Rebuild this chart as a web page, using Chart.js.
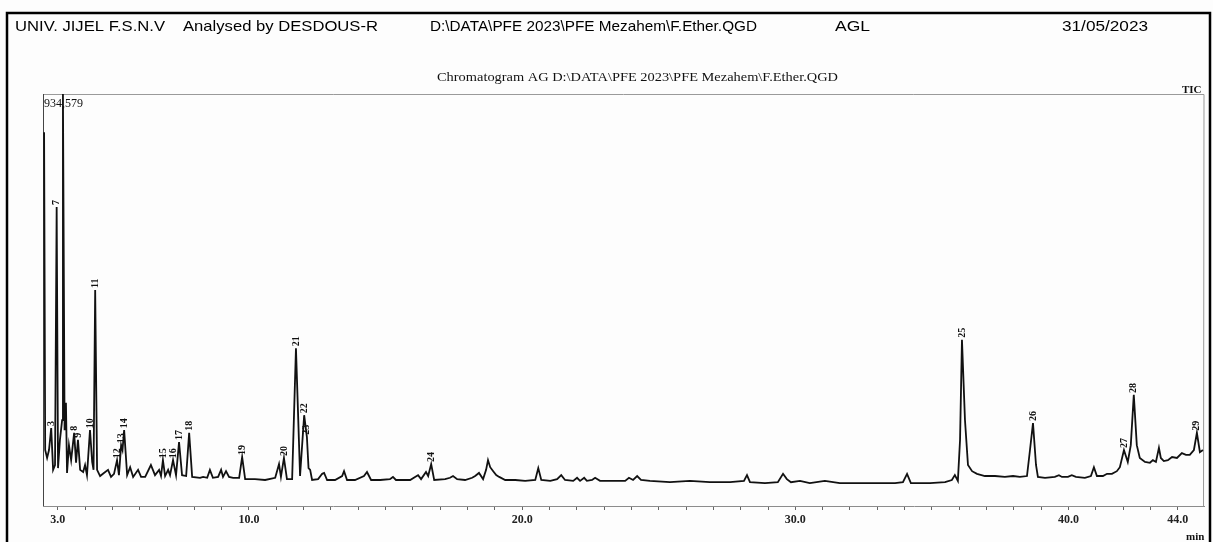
<!DOCTYPE html>
<html>
<head>
<meta charset="utf-8">
<script src="https://cdn.jsdelivr.net/npm/chart.js@4.4.0/dist/chart.umd.min.js"></script>
<style>
  html, body { margin: 0; padding: 0; background: #fff; }
  canvas { display: block; }
</style>
</head>
<body>
<canvas id="ticChart" width="1213" height="542"></canvas>
<script>
// TIC data: retention time (min) / intensity (counts)
const retentionTime = [
  2.50, 2.54, 2.61, 2.68, 2.76, 2.83, 2.90, 2.96, 3.01, 3.08, 3.16, 3.19, 3.25, 3.30, 3.34, 3.41,
  3.49, 3.60, 3.67, 3.74, 3.82, 3.93, 4.00, 4.07, 4.18, 4.26, 4.31, 4.37, 4.44, 4.55, 4.69, 4.84,
  4.95, 5.06, 5.17, 5.24, 5.32, 5.37, 5.43, 5.54, 5.65, 5.76, 5.94, 6.05, 6.20, 6.41, 6.56, 6.71,
  6.78, 6.85, 6.93, 7.04, 7.11, 7.22, 7.33, 7.44, 7.55, 7.70, 7.81, 7.92, 8.21, 8.32, 8.47, 8.57,
  8.68, 8.87, 8.98, 9.05, 9.16, 9.27, 9.42, 9.64, 9.75, 9.86, 10.22, 10.59, 10.96, 11.10, 11.17, 11.28,
  11.39, 11.58, 11.72, 11.87, 12.02, 12.12, 12.18, 12.24, 12.31, 12.53, 12.68, 12.75, 12.86, 13.15, 13.41, 13.48,
  13.59, 13.88, 14.21, 14.32, 14.47, 14.80, 15.16, 15.27, 15.38, 15.90, 16.08, 16.19, 16.30, 16.48, 16.56, 16.67,
  16.78, 17.18, 17.36, 17.47, 17.62, 17.91, 18.17, 18.28, 18.42, 18.57, 18.68, 18.75, 18.83, 18.94, 19.05, 19.16,
  19.38, 19.75, 20.11, 20.48, 20.59, 20.70, 21.03, 21.28, 21.43, 21.57, 21.87, 22.01, 22.12, 22.27, 22.37, 22.56,
  22.67, 22.85, 23.40, 23.77, 23.91, 24.06, 24.21, 24.35, 24.68, 25.41, 26.14, 26.87, 27.61, 28.12, 28.23, 28.34,
  28.89, 29.36, 29.55, 29.69, 29.84, 30.17, 30.53, 31.08, 31.63, 32.36, 33.10, 33.65, 33.94, 34.09, 34.23, 34.93,
  35.48, 35.73, 35.84, 35.95, 36.03, 36.10, 36.21, 36.32, 36.47, 36.65, 36.94, 37.31, 37.67, 37.97, 38.22, 38.48,
  38.59, 38.70, 38.81, 38.88, 39.14, 39.50, 39.65, 39.76, 39.98, 40.12, 40.27, 40.60, 40.82, 40.93, 41.04, 41.26,
  41.41, 41.59, 41.77, 41.88, 42.03, 42.17, 42.28, 42.39, 42.50, 42.61, 42.80, 42.98, 43.09, 43.20, 43.31, 43.38,
  43.49, 43.64, 43.79, 43.97, 44.15, 44.30, 44.44, 44.59, 44.70, 44.81, 44.92
];
const intensity = [
  848000, 127000, 109000, 127000, 177000, 82000, 93000, 678000, 86000, 150000, 195000, 934579, 172000, 234000, 75000, 138000,
  104000, 166000, 98000, 150000, 82000, 77000, 93000, 70000, 172000, 100000, 82000, 490000, 82000, 68000, 75000, 82000,
  66000, 73000, 104000, 70000, 138000, 127000, 172000, 70000, 88000, 66000, 82000, 66000, 66000, 93000, 70000, 82000,
  68000, 104000, 68000, 82000, 70000, 104000, 70000, 145000, 70000, 68000, 166000, 66000, 64000, 66000, 64000, 82000,
  64000, 66000, 82000, 66000, 79000, 66000, 64000, 64000, 111000, 61000, 61000, 59000, 64000, 95000, 66000, 109000,
  61000, 61000, 358000, 68000, 206000, 157000, 86000, 82000, 59000, 61000, 73000, 75000, 59000, 59000, 68000, 79000,
  59000, 59000, 68000, 77000, 59000, 59000, 61000, 66000, 59000, 59000, 66000, 70000, 61000, 77000, 68000, 95000,
  59000, 61000, 64000, 68000, 61000, 59000, 64000, 68000, 75000, 61000, 82000, 104000, 88000, 79000, 70000, 66000,
  59000, 59000, 57000, 59000, 86000, 59000, 57000, 61000, 70000, 59000, 57000, 64000, 57000, 64000, 57000, 59000,
  64000, 57000, 57000, 57000, 64000, 59000, 68000, 59000, 57000, 54000, 57000, 54000, 54000, 57000, 70000, 54000,
  52000, 54000, 73000, 61000, 54000, 57000, 52000, 57000, 52000, 52000, 52000, 52000, 54000, 73000, 52000, 52000,
  54000, 59000, 70000, 57000, 150000, 377000, 195000, 93000, 79000, 73000, 68000, 68000, 66000, 68000, 66000, 68000,
  127000, 188000, 93000, 66000, 64000, 66000, 70000, 66000, 66000, 70000, 66000, 64000, 68000, 88000, 68000, 68000,
  73000, 73000, 79000, 88000, 127000, 100000, 138000, 252000, 138000, 109000, 100000, 98000, 104000, 100000, 132000, 109000,
  102000, 104000, 111000, 109000, 120000, 116000, 116000, 127000, 166000, 122000, 127000
];
// numbered peaks and their apex time
const peakNumbers = [3, 7, 8, 9, 10, 11, 12, 13, 14, 15, 16, 17, 18, 19, 20, 21, 22, 23, 24, 25, 26, 27, 28, 29];
const peakTimes = [2.76, 2.96, 3.60, 3.74, 4.18, 4.37, 5.17, 5.32, 5.43, 6.85, 7.22, 7.44, 7.81, 9.75, 11.28, 11.72,
  12.02, 12.12, 16.67, 36.10, 38.70, 42.03, 42.39, 44.70];
const tickLabels = [3, 10, 20, 30, 40, 44];
const fullScale = 934579;

function stretchText(ctx, text, x, y, width) {
  const w = ctx.measureText(text).width;
  ctx.save();
  ctx.translate(x, y);
  ctx.scale(width / w, 1);
  ctx.fillText(text, 0, 0);
  ctx.restore();
}

// frame, header and captions
const printout = {
  id: 'printout',
  beforeDraw(chart) {
    const ctx = chart.ctx;
    const a = chart.chartArea;
    ctx.save();
    ctx.fillStyle = '#fdfdfd';
    ctx.fillRect(0, 0, chart.width, chart.height);

    ctx.strokeStyle = '#000';
    ctx.lineWidth = 2.5;
    ctx.beginPath();
    ctx.moveTo(7, 545); ctx.lineTo(7, 13); ctx.lineTo(1210, 13); ctx.lineTo(1210, 545);
    ctx.stroke();

    ctx.fillStyle = '#000';
    ctx.textBaseline = 'alphabetic';
    ctx.font = '15px "Liberation Sans", Arial, sans-serif';
    stretchText(ctx, 'UNIV. JIJEL F.S.N.V', 15, 31, 150);
    stretchText(ctx, 'Analysed by DESDOUS-R', 183, 31, 195);
    stretchText(ctx, 'D:\\DATA\\PFE 2023\\PFE Mezahem\\F.Ether.QGD', 430, 31, 327);
    stretchText(ctx, 'AGL', 835, 31, 35);
    stretchText(ctx, '31/05/2023', 1062, 31, 86);

    ctx.fillStyle = '#111';
    ctx.font = '12px "Liberation Serif", serif';
    stretchText(ctx, 'Chromatogram AG D:\\DATA\\PFE 2023\\PFE Mezahem\\F.Ether.QGD', 437, 81, 401);
    ctx.font = 'bold 11px "Liberation Serif", serif';
    ctx.fillText('TIC', 1182, 93);
    ctx.font = '12px "Liberation Serif", serif';
    ctx.fillText('934,579', 44, 107);
    ctx.font = 'bold 11px "Liberation Serif", serif';
    ctx.fillText('min', 1186, 540);

    // plot box
    ctx.strokeStyle = '#9a9a9a';
    ctx.lineWidth = 1;
    ctx.beginPath();
    ctx.moveTo(a.left, a.top + 0.5); ctx.lineTo(a.right, a.top + 0.5); ctx.lineTo(a.right - 0.5, a.bottom);
    ctx.stroke();
    ctx.strokeStyle = '#444';
    ctx.beginPath();
    ctx.moveTo(a.left + 0.5, a.top); ctx.lineTo(a.left + 0.5, a.bottom);
    ctx.stroke();
    ctx.restore();
  },
  afterDatasetsDraw(chart) {
    const ctx = chart.ctx;
    const xs = chart.scales.x, ys = chart.scales.y;
    ctx.save();
    ctx.fillStyle = '#111';
    ctx.font = 'bold 10px "Liberation Serif", serif';
    ctx.textAlign = 'left';
    ctx.textBaseline = 'middle';
    peakNumbers.forEach((n, i) => {
      const idx = retentionTime.indexOf(peakTimes[i]);
      const px = xs.getPixelForValue(peakTimes[i]);
      const py = ys.getPixelForValue(intensity[idx]);
      ctx.save();
      ctx.translate(px, py - 2);
      ctx.rotate(-Math.PI / 2);
      ctx.fillText(String(n), 0, 0);
      ctx.restore();
    });
    ctx.restore();
  }
};

const ctx = document.getElementById('ticChart').getContext('2d');
new Chart(ctx, {
  type: 'line',
  data: {
    datasets: [{
      label: 'TIC',
      data: retentionTime.map((t, i) => ({ x: t, y: intensity[i] })),
      borderColor: '#111',
      borderWidth: 1.8,
      pointRadius: 0,
      tension: 0,
      fill: false
    }]
  },
  options: {
    responsive: false,
    animation: false,
    devicePixelRatio: 1,
    layout: { padding: { left: 43, top: 94, right: 9, bottom: 0 } },
    plugins: {
      legend: { display: false },
      tooltip: { enabled: false }
    },
    scales: {
      x: {
        type: 'linear',
        min: 2.46,
        max: 44.96,
        afterBuildTicks(scale) {
          const ticks = [];
          for (let v = 3; v <= 44; v++) ticks.push({ value: v });
          scale.ticks = ticks;
        },
        afterFit(scale) { scale.height = 36; },
        ticks: {
          autoSkip: false,
          maxRotation: 0,
          padding: 3,
          color: '#222',
          font: { family: '"Liberation Serif", serif', size: 12, weight: 'bold' },
          callback: (v) => tickLabels.includes(v) ? v.toFixed(1) : ''
        },
        grid: { drawOnChartArea: false, tickLength: 4, color: '#666' },
        border: { color: '#8c8c8c', width: 1 }
      },
      y: {
        display: false,
        min: 0,
        max: fullScale
      }
    }
  },
  plugins: [printout]
});
</script>
</body>
</html>
